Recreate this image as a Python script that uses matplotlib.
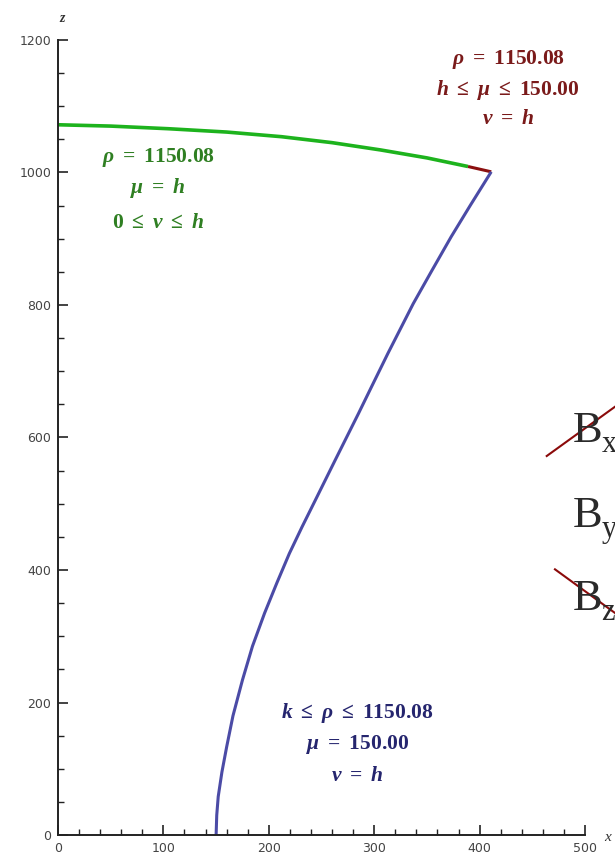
import numpy as np
import matplotlib.pyplot as plt
from matplotlib.ticker import MultipleLocator
from matplotlib.lines import Line2D

plt.rcParams['mathtext.fontset'] = 'custom'
plt.rcParams['mathtext.rm'] = 'Liberation Serif:bold'
plt.rcParams['mathtext.it'] = 'Liberation Serif:italic:bold'
plt.rcParams['mathtext.bf'] = 'Liberation Serif:bold'

# curve traced in the x-z plane: rho = 1150.08, mu = h, 0 <= nu <= h
green_x = [0, 50, 105, 160, 212, 260, 306, 350, 389]
green_z = [1072, 1070, 1066, 1061, 1054, 1045, 1034, 1022, 1009]

# short segment: rho = 1150.08, h <= mu <= 150, nu = h
red_x = [389, 400, 411]
red_z = [1009, 1005, 1001]

# k <= rho <= 1150.08, mu = 150, nu = h
blue_x = [150, 150.6, 152, 155.5, 160, 166, 175, 184.5, 196, 207.5, 219.5, 231.5, 244,
          263, 285, 298.5, 313, 337, 354, 373, 391, 411]
blue_z = [0, 30, 58, 95, 133, 180, 234, 285, 335, 380, 425, 465, 505,
          566, 636, 680, 727, 802, 850, 903, 950, 1001]

fig = plt.figure(figsize=(6.15, 8.63), dpi=100)
ax = fig.add_axes([0.0943, 0.0324, 0.857, 0.9213])

ax.plot(green_x, green_z, color='#1db31d', lw=2.6, solid_capstyle='butt')
ax.plot(red_x, red_z, color='#8b0f0f', lw=2.2, solid_capstyle='butt')
ax.plot(blue_x, blue_z, color='#4b4ba6', lw=2.2, solid_capstyle='butt')

ax.set_xlim(0, 500)
ax.set_ylim(0, 1200)
for s in ('top', 'right'):
    ax.spines[s].set_visible(False)
for s in ('left', 'bottom'):
    ax.spines[s].set_color('#222222')
    ax.spines[s].set_linewidth(1.4)

ax.xaxis.set_major_locator(MultipleLocator(100))
ax.xaxis.set_minor_locator(MultipleLocator(20))
ax.yaxis.set_major_locator(MultipleLocator(200))
ax.yaxis.set_minor_locator(MultipleLocator(50))
ax.tick_params(which='major', direction='in', length=7, width=1.2, color='#222222',
               labelsize=9, labelcolor='#444444')
ax.tick_params(which='minor', direction='in', length=4, width=1.0, color='#222222')
ax.tick_params(axis='x', pad=5)
ax.tick_params(axis='y', pad=5)

ax.text(4, 1232, 'z', fontsize=10, fontstyle='italic', fontweight='bold',
        family='Liberation Serif', color='#333333', ha='center', va='center', clip_on=False)
ax.text(521, -3, 'x', fontsize=11, fontstyle='italic',
        family='Liberation Serif', color='#333333', ha='center', va='center', clip_on=False)

fs = 15.5
red_lines = [r'$\rho\ =\ 1150.08$', r'$h\ \leq\ \mu\ \leq\ 150.00$', r'$\nu\ =\ h$']
for txt, z in zip(red_lines, [1170, 1124, 1082]):
    ax.text(427, z, txt, fontsize=fs, color='#7a1a1a', ha='center', va='center', clip_on=False)

green_lines = [r'$\rho\ =\ 1150.08$', r'$\mu\ =\ h$', r'$0\ \leq\ \nu\ \leq\ h$']
for txt, z in zip(green_lines, [1022, 977, 925]):
    ax.text(95, z, txt, fontsize=fs, color='#2f7f22', ha='center', va='center')

blue_lines = [r'$k\ \leq\ \rho\ \leq\ 1150.08$', r'$\mu\ =\ 150.00$', r'$\nu\ =\ h$']
for txt, z in zip(blue_lines, [184, 136, 91]):
    ax.text(284, z, txt, fontsize=fs, color='#25256e', ha='center', va='center')

# field components listed at the right edge, two of them struck out
for y, sub in zip([0.4882, 0.3897, 0.2932], ['x', 'y', 'z']):
    fig.text(0.9317, y, 'B', fontsize=32, family='Liberation Serif', color='#2a2a2a',
             ha='left', va='baseline')
    fig.text(0.978, y - 0.012, sub, fontsize=22, family='Liberation Serif', color='#2a2a2a',
             ha='left', va='baseline')

fig.add_artist(Line2D([0.889, 1.0], [0.4716, 0.5287], transform=fig.transFigure,
                      color='#8b0a0a', lw=1.5))
fig.add_artist(Line2D([0.9024, 1.0], [0.3403, 0.2897], transform=fig.transFigure,
                      color='#8b0a0a', lw=1.5))

fig.savefig('out.png', dpi=100)
